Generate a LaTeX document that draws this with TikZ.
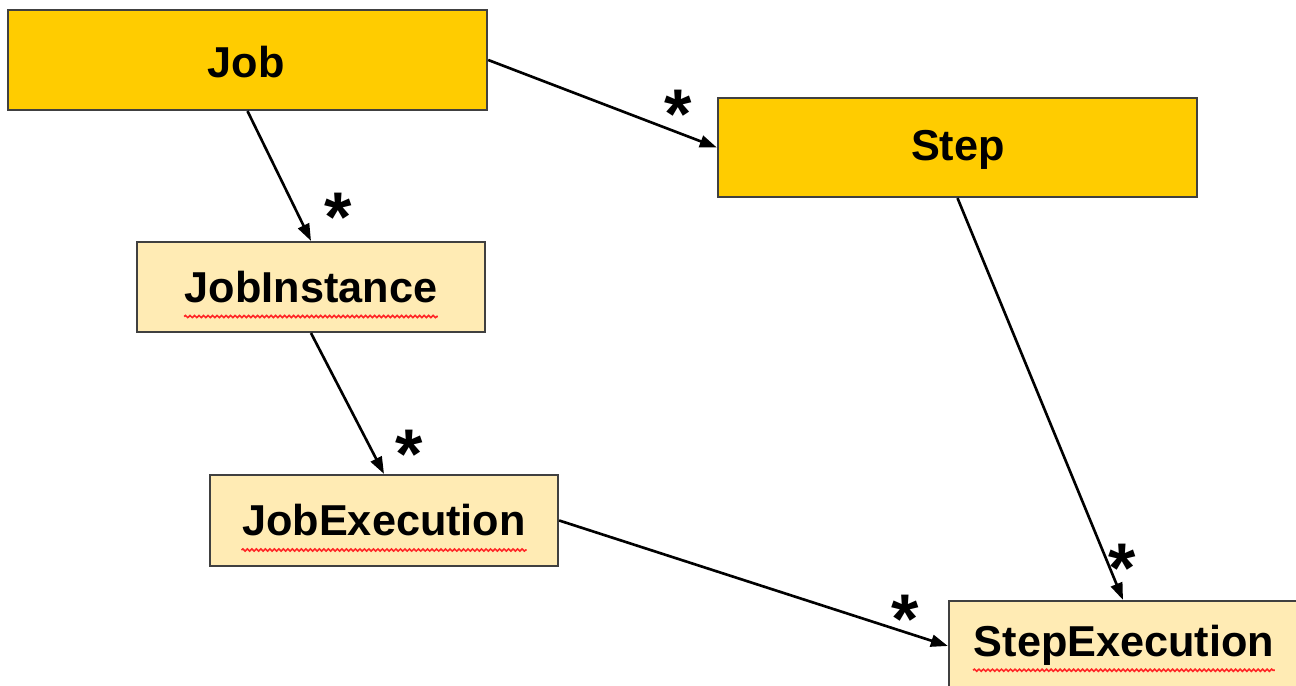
\documentclass[tikz,border=0pt]{standalone}
\usepackage{fontspec}
\setmainfont{Liberation Sans}
\usetikzlibrary{arrows.meta, positioning, decorations.pathmorphing}
\definecolor{entitygold}{RGB}{255,204,0}
\definecolor{entitylight}{RGB}{255,235,180}
\tikzstyle{entity} = [rectangle, draw=black!75, line width=0.6pt, fill=entitygold, text centered, minimum width=4.79cm, minimum height=1cm, font=\fontsize{12.3}{14}\selectfont\bfseries]
\tikzstyle{subentity} = [entity, fill=entitylight, minimum width=3.48cm, minimum height=0.9cm]
\tikzstyle{label} = [inner sep=0pt, font=\fontsize{12.3}{14}\selectfont\bfseries]
\tikzstyle{arrow} = [line width=0.75pt, -{Triangle[length=0.17cm, width=0.12cm]}]
\tikzstyle{many} = [anchor=base, inner sep=0pt, font=\fontsize{20}{20}\selectfont\bfseries]
\tikzstyle{squiggle} = [red!85, line width=0.45pt, decorate, decoration={snake, segment length=0.045cm, amplitude=0.011cm}]

\begin{document}
\begin{tikzpicture}[x=0.01cm, y=-0.01cm]

\clip (0,0) rectangle (1296,686);
\fill[white] (0,0) rectangle (1296,686);

% Boxes
\node[entity] (job) at (247.5,60) {};
\node[entity, minimum height=0.99cm] (step) at (957.5,147.5) {};
\node[subentity] (jinst) at (311,287) {};
\node[subentity, minimum height=0.91cm] (jexec) at (384,520.5) {};
\node[subentity] (sexec) at (1123,646) {};

% Texts (with spell check underline)
\node[label] (jobtxt) at (246,62) {Job};
\node[label] (steptxt) at (958,150) {Step};
\node[label] (jinsttxt) at (jinst) {JobInstance};
\node[label] (jexectxt) at (jexec) {JobExecution};
\node[label] (sexectxt) at (1124,645) {StepExecution};
\draw[squiggle] ([yshift=-4pt]jinsttxt.base west) -- ([yshift=-4pt]jinsttxt.base east);
\draw[squiggle] ([yshift=-4pt]jexectxt.base west) -- ([yshift=-4pt]jexectxt.base east);
\draw[squiggle] ([yshift=-4pt]sexectxt.base west) -- ([yshift=-4pt]sexectxt.base east);

% Arrows
\draw[arrow] (job.south) -- (jinst.north);
\draw[arrow] (job.east) -- (step.west);
\draw[arrow] (jinst.south) -- (jexec.north);
\draw[arrow] (jexec.east) -- (sexec.west);
\draw[arrow] (step.south) -- (sexec.north);

% Multiplicities
\node[many] (m1) at (338,242) {*};
\node[many] (m2) at (678,139) {*};
\node[many] (m3) at (409,479) {*};
\node[many] (m4) at (905,644) {*};
\node[many] (m5) at (1122,593) {*};

\end{tikzpicture}
\end{document}
